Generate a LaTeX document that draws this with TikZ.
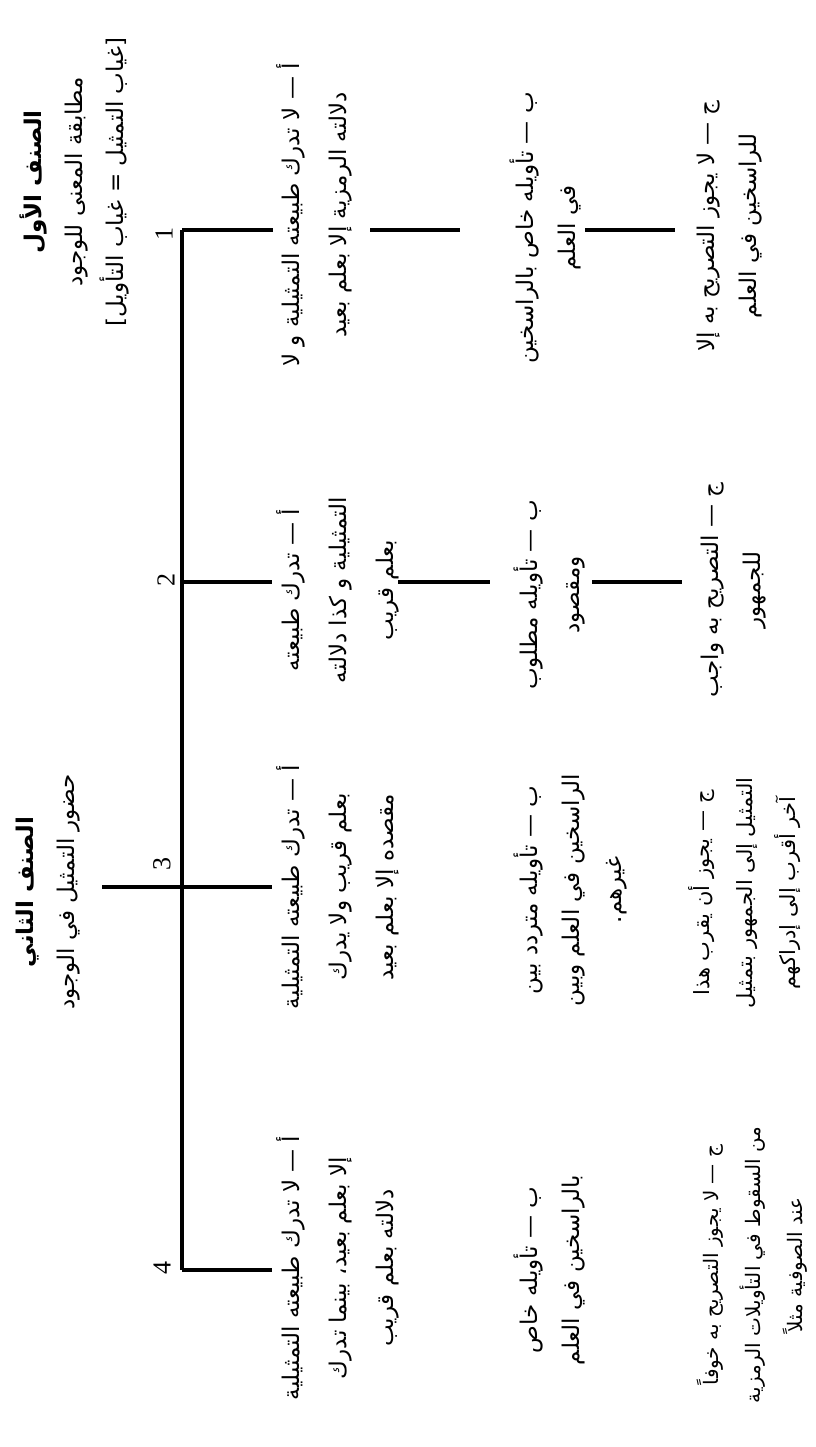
\documentclass[tikz,border=0pt]{standalone}
\usepackage{fontspec}
\setmainfont{Liberation Serif}
\newfontfamily\arabicfont[Script=Arabic]{DejaVu Sans}
\TeXXeTstate=1
\newcommand{\AR}[1]{\beginR #1\endR}
\begin{document}
\begin{tikzpicture}[x=1pt,y=-1pt,
  ln/.style={line width=3.2pt},
  blk/.style={rotate=90, anchor=north, align=center, inner sep=0pt, font=\arabicfont\fontsize{23}{47}\selectfont},
  blkb/.style={blk, font=\arabicfont\fontsize{23}{42}\selectfont},
  hd/.style={rotate=90, align=center, inner sep=0pt, font=\arabicfont\fontsize{23}{41}\selectfont},
  num/.style={rotate=90, inner sep=0pt, font=\fontsize{26}{28}\selectfont}]
\useasboundingbox (0,0) rectangle (815,1447);

% headings
\node[hd] (H1) at (74,182) {\AR{\bfseries الصنف الأول}\\\AR{مطابقة المعنى للوجود}\\\AR{[غياب التمثيل = غياب التأويل]}};
\node[hd] (H2) at (48,892) {\AR{\bfseries الصنف الثاني}\\\AR{حضور التمثيل في الوجود}};

% spine coordinates
\coordinate (S1) at (182,230);
\coordinate (S2) at (182,582);
\coordinate (S3) at (182,887);
\coordinate (S4) at (182,1270);
\coordinate (L3) at (102,887);

% numbers
\node[num] (n1) at (164,234) {1};
\node[num] (n2) at (166,580) {2};
\node[num] (n3) at (162,864) {3};
\node[num] (n4) at (162,1268) {4};

% column A
\node[blk] (A1) at (276,215) {\AR{أ — لا تدرك طبيعته التمثيلية و لا}\\\AR{دلالته الرمزية إلا بعلم بعيد}};
\node[blk] (A2) at (276,590) {\AR{أ — تدرك طبيعته}\\\AR{التمثيلية و كذا دلالته}\\\AR{بعلم قريب}};
\node[blk] (A3) at (276,887) {\AR{أ — تدرك طبيعته التمثيلية}\\\AR{بعلم قريب ولا يدرك}\\\AR{مقصده إلا بعلم بعيد}};
\node[blk] (A4) at (276,1268) {\AR{أ — لا تدرك طبيعته التمثيلية}\\\AR{إلا بعلم بعيد، بينما تدرك}\\\AR{دلالته بعلم قريب}};

% column B
\node[blkb] (B1) at (510,228) {\AR{ب — تأويله خاص بالراسخين}\\\AR{في العلم}};
\node[blkb] (B2) at (514,595) {\AR{ب — تأويله مطلوب}\\\AR{ومقصود}};
\node[blkb] (B3) at (514,890) {\AR{ب — تأويله متردد بين}\\\AR{الراسخين في العلم وبين}\\\AR{غيرهم.}};
\node[blkb] (B4) at (514,1270) {\AR{ب — تأويله خاص}\\\AR{بالراسخين في العلم}};

% column C
\node[blkb] (C1) at (697,226) {\AR{ج — لا يجوز التصريح به إلا}\\\AR{للراسخين في العلم}};
\node[blkb] (C2) at (701,590) {\AR{ج — التصريح به واجب}\\\AR{للجمهور}};
\node[blkb, font=\arabicfont\fontsize{21}{43}\selectfont] (C3) at (688,893) {\AR{ج — يجوز أن يقرب هذا}\\\AR{التمثيل إلى الجمهور بتمثيل}\\\AR{آخر أقرب إلى إدراكهم}};
\node[blkb, font=\arabicfont\fontsize{20}{42}\selectfont] (C4) at (697,1265) {\AR{ج — لا يجوز التصريح به خوفاً}\\\AR{من السقوط في التأويلات الرمزية}\\\AR{عند الصوفية مثلاً}};

% segment end points
\coordinate (g1a) at (370,230); \coordinate (g1b) at (460,230);
\coordinate (g1c) at (585,230); \coordinate (g1d) at (675,230);
\coordinate (g2a) at (398,582); \coordinate (g2b) at (490,582);
\coordinate (g2c) at (592,582); \coordinate (g2d) at (682,582);

% connectors
\draw[ln] (S1) -- (S4);
\draw[ln] (S1) -- (273,230) coordinate (e1);
\draw[ln] (S2) -- (272,582) coordinate (e2);
\draw[ln] (L3) -- (272,887) coordinate (e3);
\draw[ln] (S4) -- (272,1270) coordinate (e4);
\draw[ln] (g1a) -- (g1b);
\draw[ln] (g1c) -- (g1d);
\draw[ln] (g2a) -- (g2b);
\draw[ln] (g2c) -- (g2d);
\end{tikzpicture}
\end{document}
